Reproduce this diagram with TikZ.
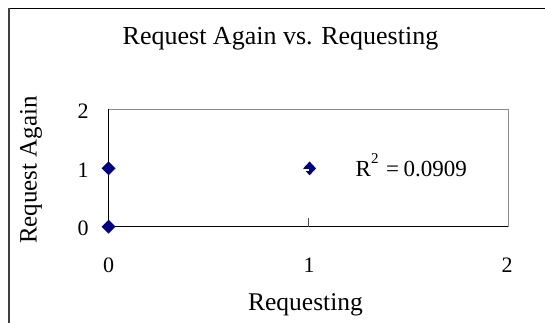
\documentclass[tikz,border=0pt]{standalone}
\usepackage{fontspec}
\setmainfont{Liberation Serif}
\usetikzlibrary{shapes.geometric}
\definecolor{navy}{RGB}{0,0,128}
\definecolor{framegray}{RGB}{64,64,64}
\definecolor{plotgray}{RGB}{140,140,140}
\tikzset{
  ticklabel/.style={font=\fontsize{22}{22}\selectfont, inner sep=0pt, anchor=center},
  axistitle/.style={font=\fontsize{25.5}{25.5}\selectfont, inner sep=0pt, anchor=base},
  datamark/.style={diamond, fill=navy, draw=none, inner sep=0pt, minimum width=14pt, minimum height=14pt},
}
\begin{document}
\begin{tikzpicture}[x=1pt,y=-1pt]
\useasboundingbox (0,0) rectangle (545,323);
% chart area frame (open to the right and bottom)
\draw[black, line width=1pt] (8,8.5) -- (545,8.5);
\draw[framegray, line width=2pt] (9,8) -- (9,323);

% plot area corners
\coordinate (o)  at (108.4,226.7);
\coordinate (xe) at (508,226.7);
\coordinate (ye) at (108.4,109.3);
\coordinate (tr) at (508,109.3);
\draw[plotgray, line width=1pt] (ye) -- (tr) -- (xe);
\draw[black, line width=1pt] (ye) -- (o) -- (xe);
\coordinate (tk1) at (308.6,226.7);
\coordinate (tk1t) at (308.6,218);
\draw[black!70, line width=0.8pt] (tk1) -- (tk1t);

% title
\node[axistitle, font=\fontsize{26}{26}\selectfont] (title) at (280.5,45) {Request Again vs. Requesting};

% axis titles
\node[axistitle] (xtitle) at (305.5,310) {Requesting};
\node[axistitle, font=\fontsize{25}{25}\selectfont, rotate=90] (ytitle) at (36.5,170) {Request Again};

% tick labels
\node[ticklabel] (y0) at (83,228) {0};
\node[ticklabel] (y1) at (83,169.8) {1};
\node[ticklabel] (y2) at (83,111.2) {2};
\node[ticklabel] (x0) at (108.6,265.5) {0};
\node[ticklabel] (x1) at (309,265.5) {1};
\node[ticklabel] (x2) at (507,265.5) {2};

% data points
\node[datamark] (p00) at (108.6,226.7) {};
\node[datamark] (p01) at (108.6,168.3) {};
\node[datamark, minimum width=13pt, minimum height=14pt] (p11) at (309.6,168.4) {};
\fill[white] (302.5,168.9) rectangle (309.4,170.6);

% trendline fit
\node[inner sep=0pt, anchor=base west, font=\fontsize{23}{23}\selectfont] (r2) at (355.5,176.7)
  {R\raisebox{13.5pt}{\fontsize{15}{15}\selectfont 2}\hspace{7.5pt}=\hspace{4.5pt}0.0909};
\end{tikzpicture}
\end{document}
